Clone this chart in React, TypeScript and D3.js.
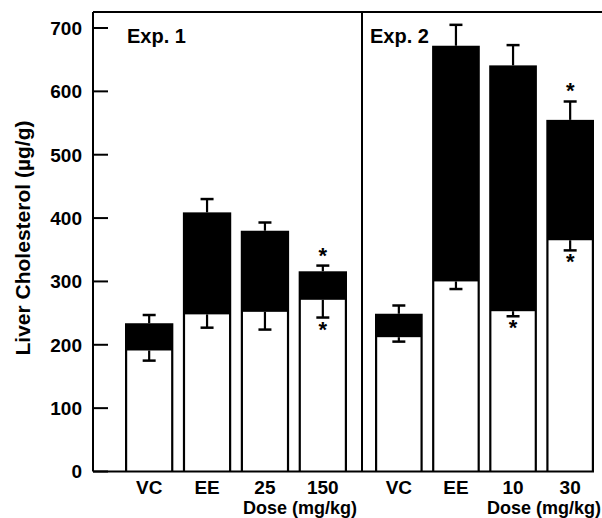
import React from "react";
import * as d3 from "d3";

const categories1 = ["VC", "EE", "25", "150"];
const categories2 = ["VC", "EE", "10", "30"];
const total1 = [234, 409, 380, 316];
const totalErr1 = [13, 21, 13, 9];
const lower1 = [191, 248, 252, 271];
const lowerErr1 = [16, 21, 28, 28];
const total2 = [249, 672, 641, 555];
const totalErr2 = [13, 33, 32, 29];
const lower2 = [212, 300, 253, 365];
const lowerErr2 = [7, 12, 8, 16];
const sigTop1 = [false, false, false, true];
const sigBottom1 = [false, false, false, true];
const sigTop2 = [false, false, false, true];
const sigBottom2 = [false, false, true, true];
const yTicks = [0, 100, 200, 300, 400, 500, 600, 700];
const panelTitles = ["Exp. 1", "Exp. 2"];
const xTitle = "Dose (mg/kg)";
const yTitle = "Liver Cholesterol (\u00b5g/g)";

const W = 602;
const H = 518;
const left = 93;
const top = 12;
const bottom = 471.5;
const divider = 362;
const axisRight = 594;
const FONT = "'Liberation Sans', Arial, Helvetica, sans-serif";

export default function App() {
  const y = d3.scaleLinear().domain([0, 700]).range([bottom, 28]);
  const panels = [
    {
      cats: categories1, total: total1, tErr: totalErr1, lower: lower1, lErr: lowerErr1,
      sTop: sigTop1, sBot: sigBottom1,
      x: d3.scaleBand<string>().domain(categories1).range([125, 347]).paddingInner(0.165).paddingOuter(0),
      title: panelTitles[0], titleX: 127, doseRight: 357,
    },
    {
      cats: categories2, total: total2, tErr: totalErr2, lower: lower2, lErr: lowerErr2,
      sTop: sigTop2, sBot: sigBottom2,
      x: d3.scaleBand<string>().domain(categories2).range([375, 594]).paddingInner(0.165).paddingOuter(0),
      title: panelTitles[1], titleX: 370, doseRight: 601,
    },
  ];
  const cap = 6.5;
  const sw = 2.2;
  return (
    <svg width={W} height={H} style={{ position: "absolute", left: 0, top: 0, background: "#fff" }} fontFamily={FONT} fontWeight="bold">
      <rect x={0} y={0} width={W} height={H} fill="#fff" />
      {panels.map((p, pi) => (
        <g key={pi}>
          {p.cats.map((c, i) => {
            const x0 = p.x(c) as number;
            const bw = p.x.bandwidth();
            const cx = x0 + bw / 2;
            const yt = y(p.total[i]);
            const yl = y(p.lower[i]);
            const yte = y(p.total[i] + p.tErr[i]);
            const yle = y(p.lower[i] - p.lErr[i]);
            return (
              <g key={c}>
                <rect x={x0} y={yt} width={bw} height={bottom - yt} fill="#000" />
                <rect x={x0 + sw} y={yl} width={bw - 2 * sw} height={bottom - yl} fill="#fff" />
                <line x1={cx} x2={cx} y1={yt} y2={yte} stroke="#000" strokeWidth={2.2} />
                <line x1={cx - cap} x2={cx + cap} y1={yte} y2={yte} stroke="#000" strokeWidth={2.5} />
                <line x1={cx} x2={cx} y1={yl} y2={yle} stroke="#000" strokeWidth={2.2} />
                <line x1={cx - cap} x2={cx + cap} y1={yle} y2={yle} stroke="#000" strokeWidth={2.5} />
                {p.sTop[i] && (
                  <text x={cx} y={yte - 3} textAnchor="middle" fontSize={22}>*</text>
                )}
                {p.sBot[i] && (
                  <text x={cx} y={yle + 19} textAnchor="middle" fontSize={22}>*</text>
                )}
                <text x={cx} y={493.5} textAnchor="middle" fontSize={19}>{c}</text>
              </g>
            );
          })}
          <text x={p.titleX} y={43} fontSize={20}>{p.title}</text>
          <text x={p.doseRight} y={514} textAnchor="end" fontSize={18}>{xTitle}</text>
        </g>
      ))}
      {/* frame */}
      <line x1={left} x2={W} y1={top} y2={top} stroke="#000" strokeWidth={2} />
      <line x1={left} x2={left} y1={top} y2={bottom} stroke="#000" strokeWidth={2} />
      <line x1={divider} x2={divider} y1={top} y2={bottom} stroke="#000" strokeWidth={2} />
      <line x1={left} x2={axisRight} y1={bottom} y2={bottom} stroke="#000" strokeWidth={2} />
      {yTicks.map((t) => (
        <g key={t}>
          <line x1={left} x2={left + 15} y1={y(t)} y2={y(t)} stroke="#000" strokeWidth={2} />
          <text x={82} y={y(t)} dy="0.36em" textAnchor="end" fontSize={19}>{t}</text>
        </g>
      ))}
      <text transform={`translate(30, ${238}) rotate(-90)`} textAnchor="middle" fontSize={21}>{yTitle}</text>
    </svg>
  );
}
